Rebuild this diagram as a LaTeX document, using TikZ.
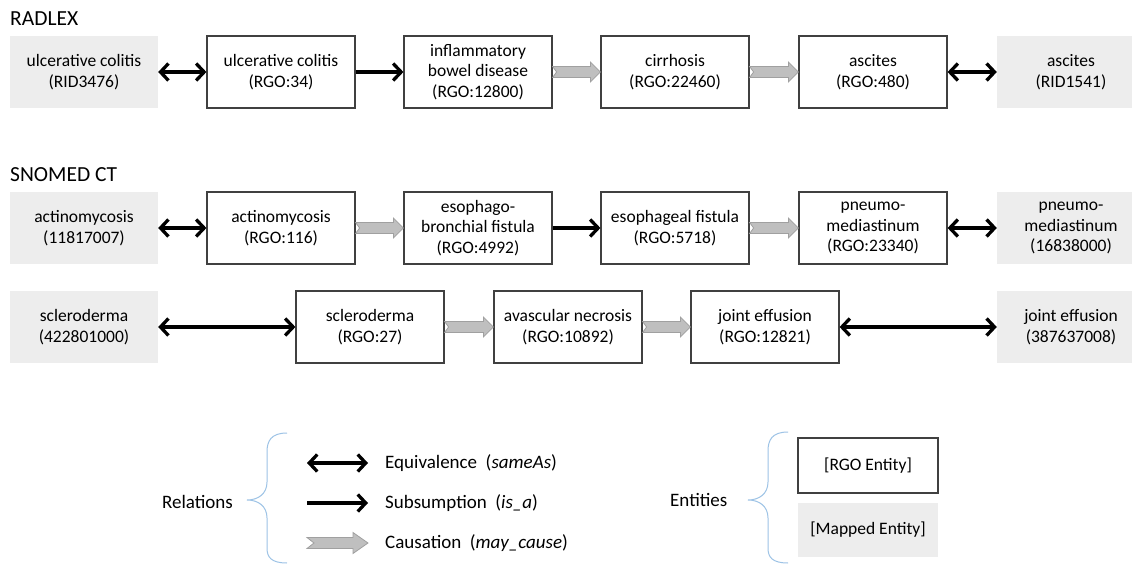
\documentclass[tikz,border=0pt]{standalone}
\usepackage{fontspec}
\setmainfont{Carlito}
\usetikzlibrary{arrows.meta,calc}
\definecolor{boxline}{HTML}{404040}
\definecolor{mapfill}{HTML}{EDEDED}
\definecolor{causefill}{HTML}{BFBFBF}
\definecolor{causeline}{HTML}{A0A0A0}
\definecolor{bracecol}{HTML}{9DC3E6}
\tikzset{
  rgo/.style={draw=boxline, line width=1.2pt, minimum width=148pt, minimum height=72pt, align=center, inner sep=0pt, font=\fontsize{17.5}{20.5}\selectfont},
  mapped/.style={fill=mapfill, minimum width=148pt, minimum height=72pt, align=center, inner sep=0pt, font=\fontsize{17.5}{20.5}\selectfont},
  equiv/.style={line width=3.3pt, {Straight Barb[length=8pt,width=17pt]}-{Straight Barb[length=8pt,width=17pt]}},
  subs/.style={line width=3.3pt, -{Straight Barb[length=8pt,width=17pt]}},
  causal/.style={fill=causefill, draw=causeline, line width=0.8pt, line join=miter},
  heading/.style={anchor=west, inner sep=0pt, font=\fontsize{21.5}{24}\selectfont},
  legtext/.style={anchor=west, inner sep=0pt, font=\fontsize{19}{22}\selectfont},
  bracepath/.style={draw=bracecol, line width=1pt}
}
\newcommand\causalarrow[6]{%
  \draw[causal] let \p1=(#1), \p2=(#2) in
    (\x1,\y1+#5) -- (\x2-#3,\y1+#5) -- (\x2-#3,\y1+#4) -- (\x2,\y1)
    -- (\x2-#3,\y1-#4) -- (\x2-#3,\y1-#5) -- (\x1,\y1-#5) -- (\x1+#6,\y1) -- cycle;}
\begin{document}
\begin{tikzpicture}[x=1pt,y=-1pt]
\clip (0,0) rectangle (1132,564);
\fill[white] (0,0) rectangle (1132,564);

% headings
\node[heading] (hrad) at (10,19) {RADLEX};
\node[heading] (hsno) at (10,175) {SNOMED CT};

% row 1
\node[mapped] (m1) at (84,72) {ulcerative colitis\\(RID3476)};
\node[rgo] (r11) at (281,72) {ulcerative colitis\\(RGO:34)};
\node[rgo] (r12) at (478,72) {inflammatory\\bowel disease\\(RGO:12800)};
\node[rgo] (r13) at (675,72) {cirrhosis\\(RGO:22460)};
\node[rgo] (r14) at (873,72) {ascites\\(RGO:480)};
\node[mapped] (m12) at (1071,72) {ascites\\(RID1541)};
\draw[equiv] (m1.east) -- (r11.west);
\draw[subs] (r11.east) -- (r12.west);
\causalarrow{r12.east}{r13.west}{10pt}{10pt}{5.5pt}{4pt}
\causalarrow{r13.east}{r14.west}{10pt}{10pt}{5.5pt}{4pt}
\draw[equiv] (r14.east) -- (m12.west);

% row 2
\node[mapped] (m2) at (84,228) {actinomycosis\\(11817007)};
\node[rgo] (r21) at (281,228) {actinomycosis\\(RGO:116)};
\node[rgo] (r22) at (478,228) {esophago-\\bronchial fistula\\(RGO:4992)};
\node[rgo] (r23) at (675,228) {esophageal fistula\\(RGO:5718)};
\node[rgo] (r24) at (873,228) {pneumo-\\mediastinum\\(RGO:23340)};
\node[mapped] (m22) at (1071,228) {pneumo-\\mediastinum\\(16838000)};
\draw[equiv] (m2.east) -- (r21.west);
\causalarrow{r21.east}{r22.west}{10pt}{10pt}{5.5pt}{4pt}
\draw[subs] (r22.east) -- (r23.west);
\causalarrow{r23.east}{r24.west}{10pt}{10pt}{5.5pt}{4pt}
\draw[equiv] (r24.east) -- (m22.west);

% row 3
\node[mapped] (m3) at (84,327) {scleroderma\\(422801000)};
\node[rgo] (r31) at (370,327) {scleroderma\\(RGO:27)};
\node[rgo] (r32) at (568,327) {avascular necrosis\\(RGO:10892)};
\node[rgo] (r33) at (765,327) {joint effusion\\(RGO:12821)};
\node[mapped] (m32) at (1071,327) {joint effusion\\(387637008)};
\draw[equiv] (m3.east) -- (r31.west);
\causalarrow{r31.east}{r32.west}{10pt}{10pt}{5.5pt}{4pt}
\causalarrow{r32.east}{r33.west}{10pt}{10pt}{5.5pt}{4pt}
\draw[equiv] (r33.east) -- (m32.west);

% legend: relations
\node[legtext, anchor=east] (lrel) at (233,502) {Relations};
\draw[bracepath] (287,433) .. controls (271,433) and (267,441) .. (267,452) -- (267,482)
  .. controls (267,494) and (258,500) .. (247,500)
  .. controls (258,500) and (267,506) .. (267,518) -- (267,548)
  .. controls (267,557) and (271,563) .. (287,563);
\coordinate (e1a) at (307,463); \coordinate (e1b) at (368,463);
\coordinate (s1a) at (307,503); \coordinate (s1b) at (368,503);
\coordinate (c1a) at (307,543); \coordinate (c1b) at (368,543);
\draw[equiv] (e1a) -- (e1b);
\draw[subs] (s1a) -- (s1b);
\causalarrow{c1a}{c1b}{15pt}{10.5pt}{5.5pt}{7pt}
\node[legtext] (leq) at (385,463) {Equivalence\hspace{0.45em}(\textit{sameAs})};
\node[legtext] (lsu) at (385,503) {Subsumption\hspace{0.45em}(\textit{is\_a})};
\node[legtext] (lca) at (385,543) {Causation\hspace{0.45em}(\textit{may\_cause})};

% legend: entities
\node[legtext] (lent) at (670,500) {Entities};
\draw[bracepath] (788,432) .. controls (772,432) and (768,440) .. (768,451) -- (768,482)
  .. controls (768,494) and (759,500) .. (748,500)
  .. controls (759,500) and (768,506) .. (768,518) -- (768,548)
  .. controls (768,557) and (772,563) .. (788,563);
\node[rgo, minimum width=140pt, minimum height=55pt] (lrgo) at (868,465.5) {[RGO Entity]};
\node[mapped, minimum width=140pt, minimum height=54pt] (lmap) at (868,530) {[Mapped Entity]};
\end{tikzpicture}
\end{document}
